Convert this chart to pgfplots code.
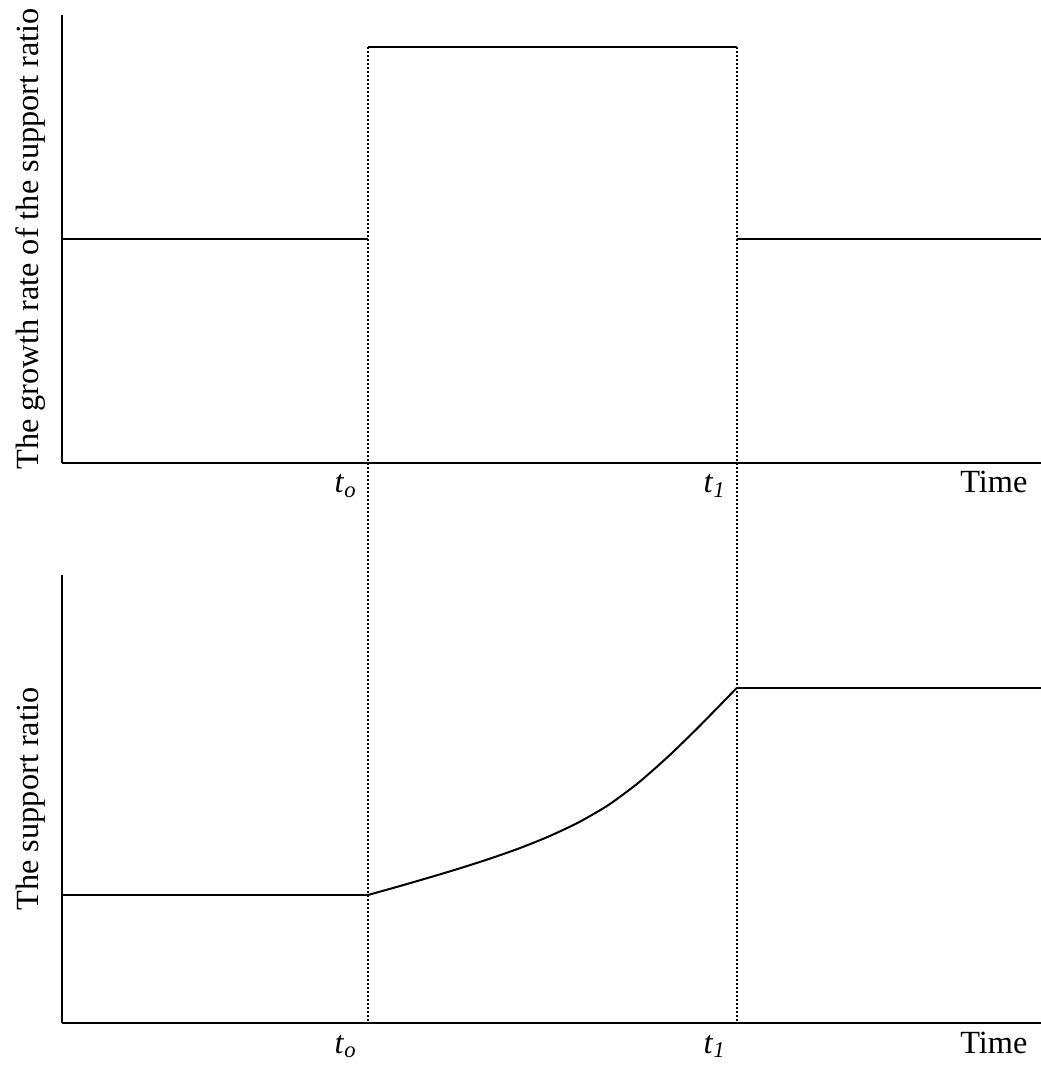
\documentclass[border=0pt]{standalone}
\usepackage{fontspec}
\setmainfont{Liberation Serif}
\usepackage{pgfplots}
\pgfplotsset{compat=1.18}
\pgfplotsset{myax/.style={
  scale only axis, width=293.7bp, height=134.4bp,
  xmin=62, xmax=1041, ymin=0, ymax=448,
  axis x line=bottom, axis y line=left,
  axis line style={-, line width=0.65bp},
  ytick=\empty, xtick={368,737},
  xticklabels={\textit{t}\textsubscript{\textit{o}}, \textit{t}\textsubscript{\textit{1}}},
  major tick length=0,
  xticklabel style={anchor=base, xshift=-6.6bp, yshift=-9bp, inner sep=0},
  xlabel={Time},
  xlabel style={at={(axis description cs:1,0)}, anchor=base east, xshift=-3.9bp, yshift=-9bp, inner sep=0},
  ylabel style={at={(axis description cs:-0.0245,0.5)}, anchor=base, inner sep=0},
  clip=false,
}}
\begin{document}
\fontsize{9.7bp}{11bp}\selectfont
\begin{tikzpicture}
\useasboundingbox (0,0) rectangle (312.3bp,320.7bp);
\begin{axis}[myax, at={(18.6bp,181.8bp)}, anchor=south west,
  ylabel={The growth rate of the support ratio}]
\addplot[black, line width=0.6bp] coordinates {(62,224) (368,224)};
\addplot[black, line width=0.6bp] coordinates {(368,416) (737,416)};
\addplot[black, line width=0.6bp] coordinates {(737,224) (1041,224)};
\addplot[black, line width=0.4bp, dash pattern=on 0.6bp off 0.6bp] coordinates {(368,416) (368,-560)};
\addplot[black, line width=0.4bp, dash pattern=on 0.6bp off 0.6bp] coordinates {(737,416) (737,-560)};
\end{axis}
\begin{axis}[myax, at={(18.6bp,13.8bp)}, anchor=south west,
  ylabel={The support ratio}]
\addplot[black, line width=0.6bp] coordinates {(62,128) (368,128)};
\addplot[black, line width=0.6bp, smooth, tension=0.4] coordinates {(368,128) (398,136.4) (428,145.1) (458,154.1) (488,163.7) (518,174.2) (548,186.2) (578,200.3) (608,217.7) (638,239.9) (668,266.3) (698,295.4) (737,335.3)};
\addplot[black, line width=0.6bp] coordinates {(737,335.3) (1041,335.3)};
\end{axis}
\end{tikzpicture}
\end{document}
